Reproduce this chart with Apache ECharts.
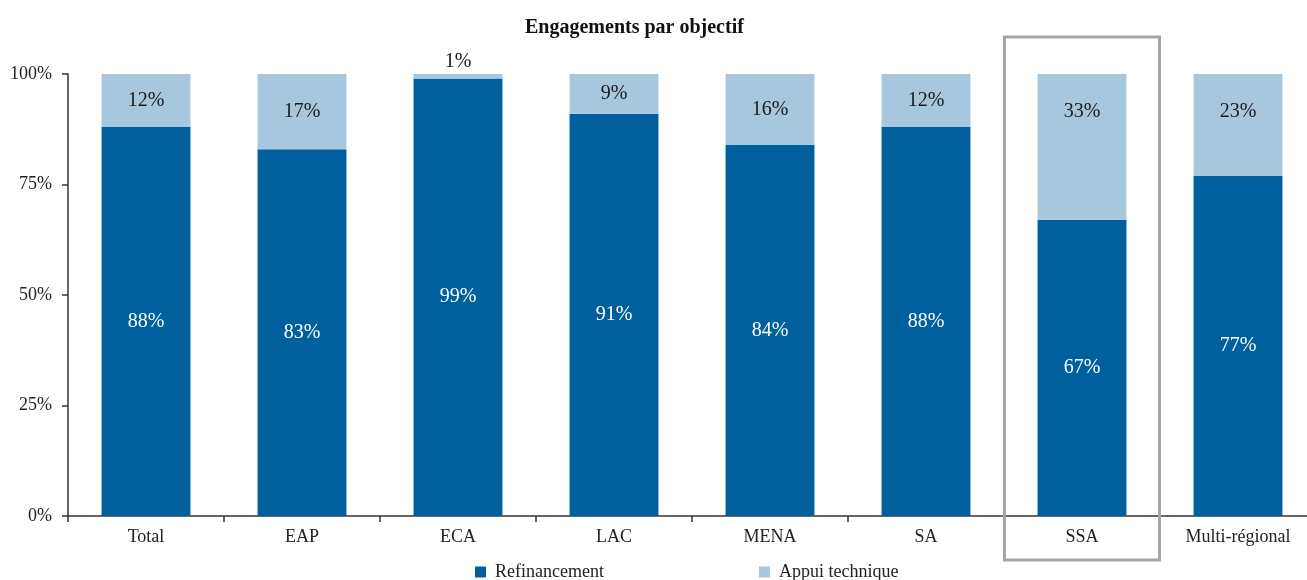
<!DOCTYPE html>
<html>
<head>
<meta charset="utf-8">
<script src="https://cdn.jsdelivr.net/npm/echarts@6/dist/echarts.min.js"></script>
<style>
html,body{margin:0;padding:0;background:#fff;}
#chart{width:1307px;height:580px;}
</style>
</head>
<body>
<div id="chart"></div>
<script>
const categories = ['Total', 'EAP', 'ECA', 'LAC', 'MENA', 'SA', 'SSA', 'Multi-régional'];
const refinancement = [88, 83, 99, 91, 84, 88, 67, 77];
const appuiTechnique = [12, 17, 1, 9, 16, 12, 33, 23];
const yTicks = [0, 25, 50, 75, 100];
const highlighted = 'SSA';

const FONT = '"Liberation Serif", "Times New Roman", serif';
const DARK = '#00609E';
const LIGHT = '#A7C7DE';

const chart = echarts.init(document.getElementById('chart'));

const lightData = appuiTechnique.map(v => {
  if (v < 5) return { value: v, label: { position: 'top', distance: 2 } };
  if (v > 20) return { value: v, label: { position: 'insideTop', distance: 28 } };
  return v;
});

chart.setOption({
  animation: false,
  title: {
    text: 'Engagements par objectif',
    left: 520,
    top: 13,
    textStyle: { fontFamily: FONT, fontSize: 20, fontWeight: 'bold', color: '#111' }
  },
  legend: {
    left: 475,
    top: 563,
    padding: 0,
    itemWidth: 11,
    itemHeight: 11,
    itemGap: 155,
    icon: 'rect',
    textStyle: { fontFamily: FONT, fontSize: 18, color: '#222', padding: [0, 0, 0, 4] },
    data: ['Refinancement', 'Appui technique']
  },
  grid: { left: 68, width: 1248, top: 74, height: 442, containLabel: false, outerBoundsMode: 'none' },
  xAxis: {
    type: 'category',
    data: categories,
    axisLine: { lineStyle: { color: '#333', width: 1.5 } },
    axisTick: { show: true, length: 6, lineStyle: { color: '#333', width: 1.5 } },
    axisLabel: { fontFamily: FONT, fontSize: 18, color: '#222', margin: 12 }
  },
  yAxis: {
    type: 'value',
    min: 0,
    max: 100,
    interval: 25,
    axisLine: { show: true, lineStyle: { color: '#333', width: 1.5 } },
    axisTick: { show: true, length: 6, lineStyle: { color: '#333', width: 1.5 } },
    splitLine: { show: false },
    axisLabel: {
      fontFamily: FONT, fontSize: 18, color: '#222', margin: 16,
      formatter: v => yTicks.includes(v) ? v + '%' : ''
    }
  },
  series: [
    {
      name: 'Refinancement',
      type: 'bar',
      stack: 'total',
      barWidth: '57%',
      itemStyle: { color: DARK },
      label: {
        show: true, position: 'inside', formatter: '{c}%',
        fontFamily: FONT, fontSize: 20, color: '#fff'
      },
      data: refinancement
    },
    {
      name: 'Appui technique',
      type: 'bar',
      stack: 'total',
      barWidth: '57%',
      itemStyle: { color: LIGHT },
      label: {
        show: true, position: 'inside', formatter: '{c}%',
        fontFamily: FONT, fontSize: 20, color: '#1a1a1a'
      },
      data: lightData
    }
  ]
});

// Highlight box around the chosen category, located via the axis scale
const idx = categories.indexOf(highlighted);
const c0 = chart.convertToPixel({ gridIndex: 0 }, [idx, 0]);
const c1 = chart.convertToPixel({ gridIndex: 0 }, [idx + 1, 0]);
const band = c1[0] - c0[0];
const x0 = c0[0] - band / 2;
chart.setOption({
  graphic: [{
    type: 'rect',
    shape: { x: x0 + 0.5, y: 37, width: band - 1, height: 523 },
    style: { fill: 'none', stroke: '#A6A6A6', lineWidth: 3 },
    z: 10
  }]
});
</script>
</body>
</html>
